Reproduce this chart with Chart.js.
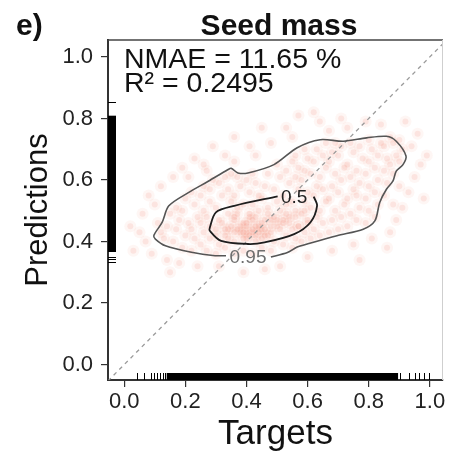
<!DOCTYPE html>
<html>
<head>
<meta charset="utf-8">
<script src="https://cdn.jsdelivr.net/npm/chart.js@4.4.1/dist/chart.umd.min.js"></script>
<style>
  html, body { margin: 0; padding: 0; background: #ffffff; }
  #wrap { width: 449px; height: 455px; }
</style>
</head>
<body>
<div id="wrap"><canvas id="c" width="449" height="455"></canvas></div>
<script>
// ---- data ----
const panelLabel = 'e)';
const chartTitle = 'Seed mass';
const xTitle = 'Targets';
const yTitle = 'Predictions';
const statLines = ['NMAE = 11.65 %', 'R\u00B2 = 0.2495'];
const tickValues = [0.0, 0.2, 0.4, 0.6, 0.8, 1.0];
const axisMin = { x: -0.053, y: -0.05 };
const axisMax = { x: 1.043, y: 1.055 };

// point cloud (target, prediction)
const cloud = [
  [0.03,0.37],[0.05,0.43],[0.07,0.40],[0.06,0.49],[0.09,0.36],[0.10,0.52],[0.11,0.46],[0.12,0.58],[0.14,0.34],[0.16,0.61],
  [0.19,0.64],[0.18,0.33],[0.23,0.67],[0.26,0.65],[0.24,0.32],[0.29,0.71],[0.33,0.68],[0.36,0.74],[0.39,0.30],[0.41,0.71],
  [0.45,0.77],[0.48,0.72],[0.51,0.32],[0.53,0.77],[0.57,0.81],[0.60,0.35],[0.64,0.79],[0.68,0.37],[0.71,0.80],[0.75,0.39],
  [0.79,0.79],[0.81,0.41],[0.84,0.78],[0.87,0.43],[0.89,0.47],[0.91,0.51],[0.93,0.56],[0.95,0.61],[0.97,0.65],[0.94,0.71],
  [0.96,0.75],[0.99,0.68],[0.92,0.79],[0.98,0.54],[0.86,0.38],[0.46,0.31],[0.31,0.32],[0.08,0.55],[0.15,0.30],[0.62,0.82],
  [0.77,0.34],[0.02,0.45],[0.36,0.66],[0.43,0.68],[0.55,0.74],[0.27,0.63],[0.21,0.61],[0.67,0.76],[0.73,0.77],[0.90,0.58],
  [0.88,0.52],
  [0.13,0.41],[0.14,0.45],[0.12,0.43],[0.15,0.49],[0.16,0.40],[0.17,0.44],[0.18,0.47],[0.17,0.51],[0.19,0.38],[0.20,0.42],
  [0.21,0.46],[0.19,0.50],[0.20,0.54],
  [0.22,0.37],[0.23,0.41],[0.22,0.44],[0.24,0.48],[0.23,0.52],[0.22,0.56],[0.25,0.39],[0.26,0.43],[0.25,0.46],[0.26,0.50],
  [0.25,0.55],[0.26,0.58],[0.27,0.37],[0.28,0.41],[0.28,0.45],[0.27,0.48],[0.28,0.53],[0.28,0.57],[0.29,0.60],
  [0.30,0.36],[0.31,0.39],[0.30,0.42],[0.31,0.47],[0.30,0.51],[0.32,0.55],[0.31,0.59],[0.33,0.61],[0.33,0.38],[0.34,0.41],
  [0.33,0.44],[0.34,0.49],[0.35,0.53],[0.34,0.57],[0.35,0.62],[0.36,0.36],[0.36,0.40],[0.37,0.44],[0.36,0.48],[0.37,0.51],
  [0.36,0.55],[0.38,0.58],[0.37,0.61],
  [0.39,0.37],[0.40,0.41],[0.39,0.43],[0.40,0.46],[0.41,0.49],[0.39,0.52],[0.41,0.56],[0.40,0.60],[0.42,0.36],[0.43,0.40],
  [0.42,0.43],[0.44,0.45],[0.43,0.48],[0.42,0.52],[0.44,0.55],[0.43,0.59],[0.42,0.62],[0.45,0.38],[0.46,0.42],[0.45,0.44],
  [0.46,0.47],[0.47,0.51],[0.45,0.54],[0.46,0.58],[0.47,0.62],
  [0.48,0.37],[0.49,0.40],[0.48,0.43],[0.50,0.45],[0.49,0.48],[0.51,0.50],[0.50,0.53],[0.49,0.57],[0.51,0.61],[0.50,0.65],
  [0.52,0.39],[0.53,0.42],[0.52,0.46],[0.54,0.48],[0.53,0.52],[0.52,0.55],[0.54,0.59],[0.53,0.63],[0.55,0.66],[0.55,0.38],
  [0.56,0.41],[0.57,0.45],[0.56,0.50],[0.55,0.53],[0.57,0.57],[0.56,0.61],[0.57,0.64],[0.56,0.68],
  [0.58,0.40],[0.59,0.43],[0.60,0.46],[0.58,0.49],[0.59,0.53],[0.60,0.56],[0.58,0.60],[0.59,0.63],[0.60,0.67],[0.59,0.70],
  [0.61,0.41],[0.62,0.44],[0.63,0.48],[0.61,0.51],[0.62,0.55],[0.63,0.58],[0.61,0.62],[0.62,0.66],[0.63,0.70],[0.64,0.42],
  [0.65,0.46],[0.64,0.50],[0.66,0.53],[0.65,0.57],[0.64,0.61],[0.66,0.64],[0.65,0.68],[0.66,0.72],
  [0.67,0.43],[0.68,0.47],[0.69,0.50],[0.67,0.54],[0.68,0.58],[0.69,0.62],[0.67,0.66],[0.68,0.69],[0.69,0.72],[0.70,0.44],
  [0.71,0.48],[0.72,0.52],[0.70,0.56],[0.71,0.60],[0.72,0.64],[0.70,0.68],[0.71,0.71],[0.73,0.45],[0.74,0.49],[0.73,0.54],
  [0.75,0.57],[0.74,0.61],[0.73,0.65],[0.75,0.69],[0.74,0.72],[0.76,0.47],[0.77,0.51],[0.76,0.55],[0.77,0.59],[0.76,0.63],
  [0.78,0.67],[0.77,0.71],
  [0.79,0.46],[0.80,0.50],[0.79,0.54],[0.80,0.58],[0.79,0.62],[0.80,0.66],[0.81,0.70],[0.80,0.73],[0.82,0.48],[0.83,0.52],
  [0.82,0.56],[0.83,0.60],[0.82,0.64],[0.83,0.68],[0.84,0.72],[0.85,0.55],[0.86,0.59],[0.85,0.63],[0.86,0.67],[0.85,0.71],
  [0.87,0.74],[0.88,0.62],[0.87,0.65],[0.89,0.68],[0.88,0.72],[0.90,0.66],[0.91,0.70],[0.90,0.73],
  [0.30,0.44],[0.32,0.46],[0.33,0.42],[0.35,0.45],[0.36,0.47],[0.38,0.43],[0.39,0.46],[0.40,0.45],[0.41,0.42],[0.42,0.47],
  [0.42,0.44],[0.43,0.45],[0.44,0.43],[0.45,0.46],[0.46,0.44],[0.47,0.49],[0.48,0.45],[0.50,0.47],[0.51,0.44],[0.53,0.49],
  [0.54,0.46],[0.56,0.48],[0.57,0.45],[0.59,0.50],[0.60,0.47],[0.44,0.50],[0.37,0.49],[0.34,0.44],[0.41,0.48],[0.47,0.42],
  [0.38,0.45],[0.40,0.43],[0.43,0.42],[0.45,0.41],[0.39,0.41],[0.36,0.43],[0.48,0.47],[0.52,0.47],[0.55,0.44]
];

// density contours (0.95 and 0.5), broken where their labels sit
const contour95X = [0.48,0.534,0.566,0.599,0.696,0.782,0.82,0.836,0.858,0.879,0.89,0.912,0.922,0.89,0.858,0.793,0.717,0.641,0.566,0.49,0.405,0.372,0.35,0.34,0.275,0.21,0.146,0.124,0.097,0.102,0.135,0.22,0.297,0.333];
const contour95Y = [0.35,0.364,0.382,0.392,0.419,0.44,0.467,0.527,0.57,0.596,0.629,0.65,0.678,0.726,0.742,0.737,0.726,0.731,0.705,0.65,0.623,0.623,0.638,0.634,0.596,0.559,0.516,0.462,0.42,0.408,0.386,0.365,0.354,0.354];
const contour50X = [0.62,0.631,0.609,0.556,0.459,0.405,0.317,0.28,0.28,0.30,0.36,0.502];
const contour50Y = [0.546,0.516,0.462,0.424,0.397,0.392,0.402,0.435,0.445,0.495,0.516,0.547];
const contourLabels = ['0.95', '0.5'];
const contourLabelX = [0.405, 0.556];
const contourLabelY = [0.346, 0.542];

// rug marks
const targetRug = [0.043,0.065,0.087,0.097,0.108,0.117,0.126,0.135,0.903,0.933,0.95,0.966,0.982,0.998];
const targetRugBand = [0.139, 0.896];
const predRug = [0.854,0.35,0.343,0.333];
const predRugBand = [0.366, 0.809];

// ---- build ----
const FONT = "'Liberation Sans', Arial, Helvetica, sans-serif";
Chart.defaults.font.family = FONT;

const toXY = (xs, ys) => xs.map((x, i) => ({ x: x, y: ys[i] }));
const cloudData = cloud.map(p => ({ x: p[0], y: p[1] }));
const diagData = [{ x: axisMin.x, y: axisMin.x }, { x: axisMax.x, y: axisMax.x }];

const framePlugin = {
  id: 'frame',
  afterDatasetsDraw(chart) {
    const { ctx, chartArea: a, scales: { x, y } } = chart;
    ctx.save();
    // contour labels
    ctx.font = '19px ' + FONT;
    ctx.textAlign = 'center';
    ctx.textBaseline = 'middle';
    contourLabels.forEach((t, i) => {
      ctx.fillStyle = i === 0 ? '#6e6e6e' : '#222';
      ctx.fillText(t, x.getPixelForValue(contourLabelX[i]), y.getPixelForValue(contourLabelY[i]));
    });
    // rugs
    ctx.fillStyle = '#000';
    ctx.strokeStyle = '#000';
    ctx.lineWidth = 1;
    const rugLen = 7;
    const xb0 = x.getPixelForValue(targetRugBand[0]), xb1 = x.getPixelForValue(targetRugBand[1]);
    ctx.fillRect(xb0, a.bottom - rugLen, xb1 - xb0, rugLen);
    targetRug.forEach(v => {
      const px = Math.round(x.getPixelForValue(v)) + 0.5;
      ctx.beginPath(); ctx.moveTo(px, a.bottom); ctx.lineTo(px, a.bottom - rugLen); ctx.stroke();
    });
    const yb0 = y.getPixelForValue(predRugBand[1]), yb1 = y.getPixelForValue(predRugBand[0]);
    ctx.fillRect(a.left, yb0, rugLen + 1, yb1 - yb0);
    predRug.forEach(v => {
      const py = Math.round(y.getPixelForValue(v)) + 0.5;
      ctx.beginPath(); ctx.moveTo(a.left, py); ctx.lineTo(a.left + rugLen + 1, py); ctx.stroke();
    });
    // top + right frame
    ctx.strokeStyle = '#444';
    ctx.lineWidth = 1.5;
    ctx.beginPath(); ctx.moveTo(a.left, a.top); ctx.lineTo(a.right, a.top); ctx.stroke();
    ctx.strokeStyle = '#cfcfcf';
    ctx.lineWidth = 1;
    ctx.beginPath(); ctx.moveTo(a.right - 0.5, a.top); ctx.lineTo(a.right - 0.5, a.bottom); ctx.stroke();
    // stats text
    ctx.fillStyle = '#111';
    ctx.textAlign = 'left';
    ctx.textBaseline = 'alphabetic';
    ctx.font = '28.5px ' + FONT;
    ctx.fillText(statLines[0], 124, 68);
    ctx.fillText(statLines[1], 124, 92);
    // titles
    ctx.font = 'bold 30px ' + FONT;
    ctx.fillText(panelLabel, 16, 35);
    ctx.textAlign = 'center';
    ctx.fillText(chartTitle, 279, 35);
    ctx.restore();
  }
};

const tickCommon = (extra) => Object.assign({
  callback: v => Number(v).toFixed(1),
  font: { size: 22, family: FONT },
  color: '#222',
  autoSkip: false,
  maxRotation: 0,
  minRotation: 0
}, extra);

new Chart(document.getElementById('c'), {
  type: 'scatter',
  data: {
    datasets: [
      { data: cloudData, backgroundColor: 'rgba(240,125,105,0.07)', borderWidth: 0, pointRadius: 6, order: 11 },
      { data: cloudData, backgroundColor: 'rgba(238,118,96,0.14)', borderWidth: 0, pointRadius: 3, order: 10 },
      { type: 'line', data: diagData, borderColor: '#9a9a9a', borderDash: [4, 4], borderWidth: 1.3, pointRadius: 0, fill: false, order: 3 },
      { type: 'line', data: toXY(contour95X, contour95Y), borderColor: '#555', borderWidth: 1.6, pointRadius: 0, tension: 0.3, fill: false, order: 2 },
      { type: 'line', data: toXY(contour50X, contour50Y), borderColor: '#1e1e1e', borderWidth: 1.8, pointRadius: 0, tension: 0.3, fill: false, order: 1 }
    ]
  },
  options: {
    responsive: false,
    animation: false,
    devicePixelRatio: 1,
    layout: { padding: { top: 40, right: 1, left: 0, bottom: 0 } },
    plugins: { legend: { display: false }, tooltip: { enabled: false }, title: { display: false } },
    scales: {
      x: {
        type: 'linear', position: 'bottom',
        min: axisMin.x, max: axisMax.x,
        afterBuildTicks: s => { s.ticks = tickValues.map(v => ({ value: v })); },
        afterFit: s => { s.height = 75; },
        ticks: tickCommon({ padding: 2 }),
        grid: { drawOnChartArea: false, drawTicks: true, tickLength: 7, color: '#333', lineWidth: 1.2 },
        border: { display: true, color: '#333', width: 2 },
        title: { display: true, text: xTitle, color: '#111', font: { size: 35, family: FONT, lineHeight: 1.2 }, padding: { top: 0, bottom: 0 } }
      },
      y: {
        type: 'linear', position: 'left',
        min: axisMin.y, max: axisMax.y,
        afterBuildTicks: s => { s.ticks = tickValues.map(v => ({ value: v })); },
        afterFit: s => { s.width = 108; },
        ticks: tickCommon({ padding: 8 }),
        grid: { drawOnChartArea: false, drawTicks: true, tickLength: 7, color: '#333', lineWidth: 1.2 },
        border: { display: true, color: '#333', width: 2 },
        title: { display: true, text: yTitle, color: '#111', font: { size: 31, family: FONT, lineHeight: 1.2 }, padding: { top: 20, bottom: 0 } }
      }
    }
  },
  plugins: [framePlugin]
});
</script>
</body>
</html>
